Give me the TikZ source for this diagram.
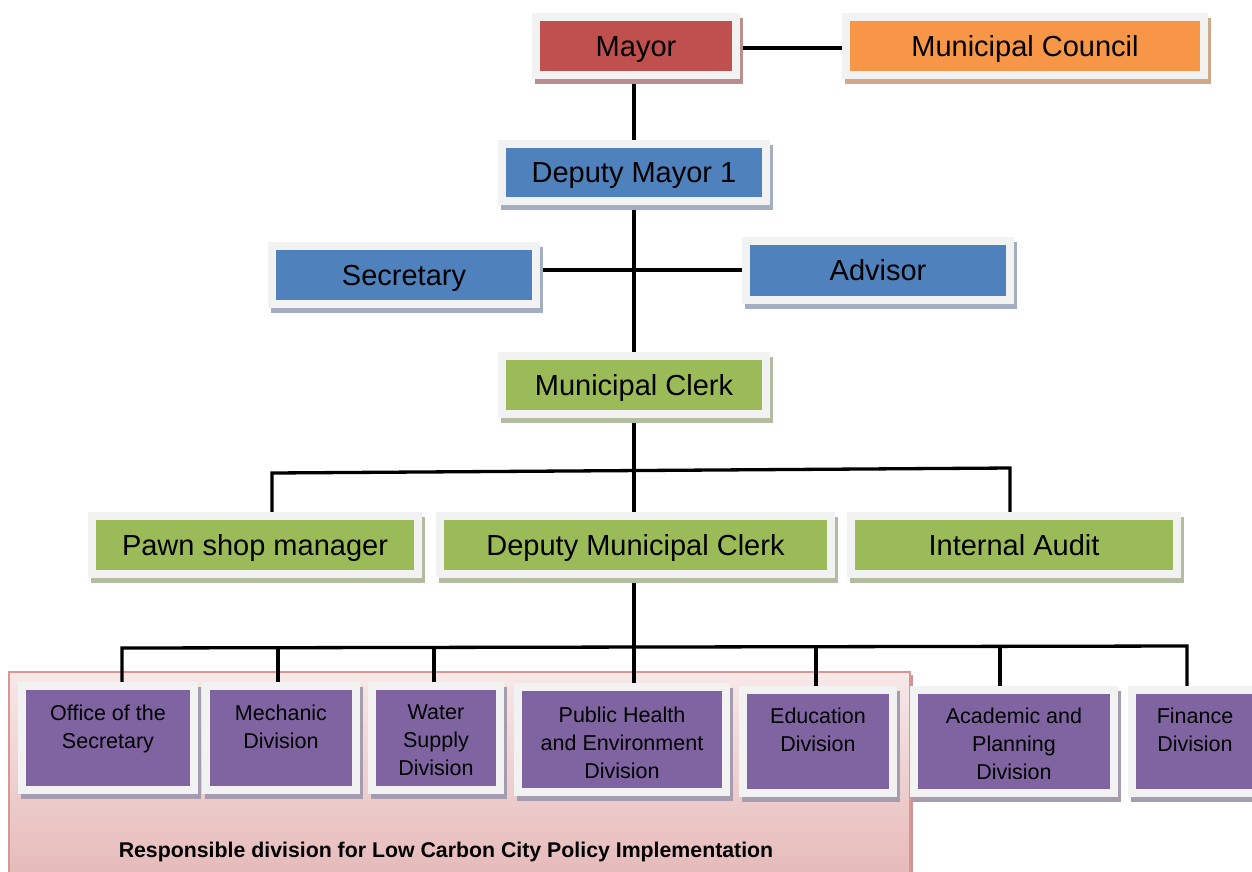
\documentclass[tikz,border=0pt]{standalone}
\usepackage{fontspec}
\setmainfont{Liberation Sans}
\usetikzlibrary{shadows,backgrounds}
\definecolor{mayorred}{HTML}{C0504D}
\definecolor{councilor}{HTML}{F79646}
\definecolor{offblue}{HTML}{4F81BD}
\definecolor{offgreen}{HTML}{9BBB59}
\definecolor{offpurple}{HTML}{8064A2}
\definecolor{framegray}{HTML}{F2F2F2}
\definecolor{redsh}{RGB}{185,143,142}
\definecolor{orsh}{RGB}{210,168,138}
\definecolor{bluesh}{RGB}{164,174,194}
\definecolor{greensh}{RGB}{178,188,160}
\definecolor{purpsh}{RGB}{166,156,176}
\definecolor{pinktop}{RGB}{247,232,232}
\definecolor{pinkbot}{RGB}{229,184,183}
\definecolor{pinkborder}{RGB}{217,150,148}
\definecolor{pinksh}{RGB}{205,150,150}
\pgfdeclarelayer{regionlayer}
\pgfdeclarelayer{linelayer}
\pgfsetlayers{regionlayer,linelayer,main}
\tikzset{
  orgbox/.style n args={2}{rectangle, inner sep=0pt, outer sep=0pt, fill=framegray,
    drop shadow={shadow xshift=3pt, shadow yshift=-5pt, fill=#2, opacity=1},
    path picture={\fill[#1] ([shift={(8pt,8pt)}]path picture bounding box.south west) rectangle ([shift={(-8pt,-8pt)}]path picture bounding box.north east);}},
  bigtxt/.style={font=\fontsize{29}{34}\selectfont, text height=20.8pt, text depth=0pt},
  smalltxt/.style={font=\fontsize{21.5}{28}\selectfont, align=center, inner sep=0pt, anchor=north},
  conn/.style={line width=3.3pt, black},
}
\begin{document}
\begin{tikzpicture}[x=1pt,y=-1pt]
\clip (0,0) rectangle (1252,871);
% top levels
\node[orgbox={mayorred}{redsh}, minimum width=208pt, minimum height=66pt, bigtxt] (mayor) at (636,46) {Mayor};
\node[orgbox={councilor}{orsh}, minimum width=366pt, minimum height=66pt, bigtxt] (council) at (1025,46) {Municipal Council};
\node[orgbox={offblue}{bluesh}, minimum width=272pt, minimum height=65pt, bigtxt] (dm1) at (634,172.5) {Deputy Mayor 1};
\node[orgbox={offblue}{bluesh}, minimum width=272pt, minimum height=66pt, bigtxt] (sec) at (404,275) {Secretary};
\node[orgbox={offblue}{bluesh}, minimum width=272pt, minimum height=67pt, bigtxt] (adv) at (878,270.5) {Advisor};
\node[orgbox={offgreen}{greensh}, minimum width=272pt, minimum height=66pt, bigtxt] (clerk) at (634,385) {Municipal Clerk};
\node[orgbox={offgreen}{greensh}, minimum width=334pt, minimum height=66pt, bigtxt] (pawn) at (255,545) {Pawn shop manager};
\node[orgbox={offgreen}{greensh}, minimum width=399pt, minimum height=66pt, bigtxt] (dmc) at (635.5,545) {Deputy Municipal Clerk};
\node[orgbox={offgreen}{greensh}, minimum width=334pt, minimum height=66pt, bigtxt] (audit) at (1014,545) {Internal Audit};
% divisions
\node[orgbox={offpurple}{purpsh}, minimum width=180pt, minimum height=112pt] (off) at (108,738) {};
\node[orgbox={offpurple}{purpsh}, minimum width=158pt, minimum height=112pt] (mech) at (281,738) {};
\node[orgbox={offpurple}{purpsh}, minimum width=136pt, minimum height=112pt] (water) at (436,738) {};
\node[orgbox={offpurple}{purpsh}, minimum width=216pt, minimum height=113pt] (pub) at (622,739.5) {};
\node[orgbox={offpurple}{purpsh}, minimum width=158pt, minimum height=111pt] (edu) at (818,741.5) {};
\node[orgbox={offpurple}{purpsh}, minimum width=208pt, minimum height=111pt] (acad) at (1014,741.5) {};
\node[orgbox={offpurple}{purpsh}, minimum width=134pt, minimum height=111pt] (fin) at (1195,741.5) {};
\node[smalltxt] (offT) at (108,704.4) {Office of the\\Secretary};
\node[smalltxt] (mechT) at (281,704.4) {Mechanic\\Division};
\node[smalltxt] (waterT) at (436,704.4) {Water\\Supply\\Division};
\node[smalltxt] (pubT) at (622,706.4) {Public Health\\and Environment\\Division};
\node[smalltxt] (eduT) at (818,707.4) {Education\\Division};
\node[smalltxt] (acadT) at (1014,707.4) {Academic and\\Planning\\Division};
\node[smalltxt] (finT) at (1195,707.4) {Finance\\Division};
% responsible region
\begin{pgfonlayer}{regionlayer}
\node[draw=pinkborder, line width=2pt, top color=pinktop, bottom color=pinkbot, inner sep=0pt, outer sep=0pt,
      minimum width=901pt, minimum height=215pt, anchor=north west,
      drop shadow={shadow xshift=3pt, shadow yshift=-3pt, fill=pinksh, opacity=1}] (resp) at (9,672) {};
\node[font=\bfseries\fontsize{21.3}{25}\selectfont, anchor=base] (respT) at (446,857) {Responsible division for Low Carbon City Policy Implementation};
\end{pgfonlayer}
% connectors
\begin{pgfonlayer}{linelayer}
\draw[conn] (mayor.east |- 0,48) -- (council.west |- 0,48);
\draw[conn] (mayor.south -| 634,0) -- (dm1.north -| 634,0);
\draw[conn] (dm1.south -| 634,0) -- (clerk.north -| 634,0);
\draw[conn] (sec.east |- 0,270) -- (adv.west |- 0,270);
\coordinate (b1) at (272,473);
\coordinate (b2) at (1010,468);
\draw[conn] (pawn.north -| b1) -- (b1) -- (b2) -- (audit.north -| b2);
\draw[conn] (clerk.south -| 634,0) -- (dmc.north -| 634,0);
\coordinate (c1) at (122,648);
\coordinate (c2) at (278,648);
\coordinate (c3) at (434,647.7);
\coordinate (c4) at (634,647.3);
\coordinate (c5) at (816,647);
\coordinate (c6) at (1000,646.5);
\coordinate (c7) at (1187,646);
\draw[conn] (dmc.south -| c4) -- (pub.north -| c4);
\draw[conn] (off.north -| c1) -- (c1) -- (c7) -- (fin.north -| c7);
\draw[conn] (c2) -- (mech.north -| c2);
\draw[conn] (c3) -- (water.north -| c3);
\draw[conn] (c5) -- (edu.north -| c5);
\draw[conn] (c6) -- (acad.north -| c6);
\end{pgfonlayer}
\end{tikzpicture}
\end{document}
